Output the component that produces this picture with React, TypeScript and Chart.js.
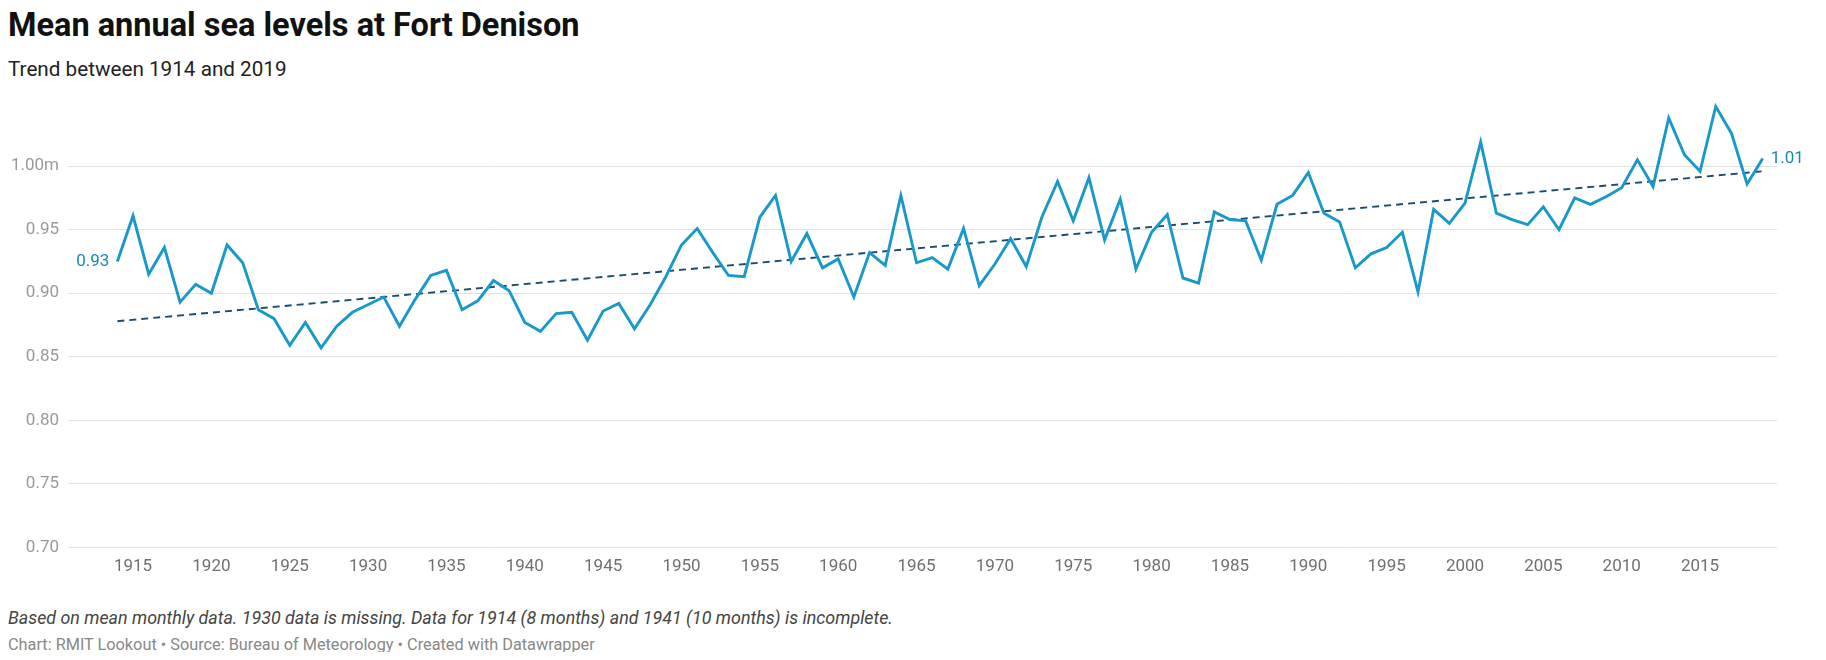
import { useEffect, useRef } from "react";
import { Chart, registerables } from "chart.js";

Chart.register(...registerables);

const years = [
  1914, 1915, 1916, 1917, 1918, 1919, 1920, 1921, 1922, 1923,
  1924, 1925, 1926, 1927, 1928, 1929, 1930, 1931, 1932, 1933,
  1934, 1935, 1936, 1937, 1938, 1939, 1940, 1941, 1942, 1943,
  1944, 1945, 1946, 1947, 1948, 1949, 1950, 1951, 1952, 1953,
  1954, 1955, 1956, 1957, 1958, 1959, 1960, 1961, 1962, 1963,
  1964, 1965, 1966, 1967, 1968, 1969, 1970, 1971, 1972, 1973,
  1974, 1975, 1976, 1977, 1978, 1979, 1980, 1981, 1982, 1983,
  1984, 1985, 1986, 1987, 1988, 1989, 1990, 1991, 1992, 1993,
  1994, 1995, 1996, 1997, 1998, 1999, 2000, 2001, 2002, 2003,
  2004, 2005, 2006, 2007, 2008, 2009, 2010, 2011, 2012, 2013,
  2014, 2015, 2016, 2017, 2018, 2019,
];

// Mean annual sea level (m); 1930 missing
const seaLevel: (number | null)[] = [
  0.925, 0.961, 0.915, 0.936, 0.893, 0.907, 0.900, 0.938, 0.924, 0.887,
  0.880, 0.859, 0.877, 0.857, 0.874, 0.885, null, 0.897, 0.874, 0.895,
  0.914, 0.918, 0.887, 0.894, 0.910, 0.902, 0.877, 0.870, 0.884, 0.885,
  0.863, 0.886, 0.892, 0.872, 0.891, 0.913, 0.938, 0.951, 0.932, 0.914,
  0.913, 0.960, 0.977, 0.925, 0.947, 0.920, 0.927, 0.897, 0.932, 0.922,
  0.977, 0.924, 0.928, 0.919, 0.951, 0.906, 0.923, 0.943, 0.921, 0.960,
  0.988, 0.957, 0.991, 0.942, 0.974, 0.919, 0.948, 0.962, 0.912, 0.908,
  0.964, 0.958, 0.957, 0.926, 0.970, 0.977, 0.995, 0.963, 0.956, 0.920,
  0.931, 0.936, 0.948, 0.901, 0.966, 0.955, 0.971, 1.019, 0.963, 0.958,
  0.954, 0.968, 0.950, 0.975, 0.970, 0.976, 0.983, 1.005, 0.984, 1.038,
  1.009, 0.996, 1.047, 1.026, 0.986, 1.006,
];

// Linear trend end points
const trendYears = [1914, 2019];
const trendValues = [0.878, 0.996];

const xTickYears = [
  1915, 1920, 1925, 1930, 1935, 1940, 1945, 1950, 1955, 1960, 1965,
  1970, 1975, 1980, 1985, 1990, 1995, 2000, 2005, 2010, 2015,
];
const yTickValues = [0.7, 0.75, 0.8, 0.85, 0.9, 0.95, 1.0];
const yTickLabels = ["0.70", "0.75", "0.80", "0.85", "0.90", "0.95", "1.00m"];

const firstLabel = "0.93";
const lastLabel = "1.01";

const LINE = "#1998ca";
const LABEL = "#1889b6";
const TREND = "#1a4c70";
const FONT = "Roboto, 'Noto Sans', sans-serif";

const endLabels = {
  id: "endLabels",
  afterDatasetsDraw(chart: any) {
    const meta = chart.getDatasetMeta(0);
    const pts = meta.data;
    if (!pts || !pts.length) return;
    const first = pts[0];
    const last = pts[pts.length - 1];
    const ctx = chart.ctx;
    ctx.save();
    ctx.font = `17px ${FONT}`;
    ctx.fillStyle = LABEL;
    ctx.textBaseline = "middle";
    ctx.textAlign = "right";
    ctx.fillText(firstLabel, first.x - 8, first.y);
    ctx.textAlign = "left";
    ctx.fillText(lastLabel, last.x + 8, last.y);
    ctx.restore();
  },
};

export default function App() {
  const ref = useRef<HTMLCanvasElement>(null);

  useEffect(() => {
    if (!ref.current) return;
    const mainData = years.map((yr, i) => ({ x: yr, y: seaLevel[i] }));
    const trendData = trendYears.map((yr, i) => ({ x: yr, y: trendValues[i] }));
    const chart = new Chart(ref.current, {
      type: "line",
      data: {
        datasets: [
          {
            label: "Sea level",
            data: mainData as any,
            borderColor: LINE,
            borderWidth: 2.9,
            pointRadius: 0,
            tension: 0,
            spanGaps: true,
            borderJoinStyle: "miter",
            order: 1,
          },
          {
            label: "Trend",
            data: trendData as any,
            borderColor: TREND,
            borderWidth: 1.9,
            borderDash: [7, 5],
            pointRadius: 0,
            tension: 0,
            order: 2,
          },
        ],
      },
      options: {
        animation: false,
        responsive: true,
        maintainAspectRatio: false,
        layout: { padding: { top: 10, right: 41, left: 0, bottom: 0 } },
        plugins: {
          legend: { display: false },
          tooltip: { enabled: false },
          title: { display: false },
        },
        scales: {
          x: {
            type: "linear",
            min: 1910.85,
            max: 2019.91,
            grid: { display: false, drawTicks: false },
            border: { display: false },
            afterBuildTicks: (scale: any) => {
              scale.ticks = xTickYears.map((v) => ({ value: v }));
            },
            afterFit: (scale: any) => {
              scale.height = 42.7;
              scale.paddingLeft = 0;
              scale.paddingRight = 0;
              scale.paddingTop = 0;
              scale.paddingBottom = 0;
            },
            ticks: {
              autoSkip: false,
              maxRotation: 0,
              padding: 9,
              color: "#707070",
              font: { family: FONT, size: 17 },
              callback: (v: any) => String(v),
            },
          },
          y: {
            type: "linear",
            min: 0.7,
            max: 1.06,
            grid: { color: "#e2e2e2", lineWidth: 1, drawTicks: false },
            border: { display: false },
            afterBuildTicks: (scale: any) => {
              scale.ticks = yTickValues.map((v) => ({ value: v }));
            },
            afterFit: (scale: any) => {
              scale.width = 60;
              scale.paddingTop = 0;
              scale.paddingBottom = 0;
              scale.paddingLeft = 0;
              scale.paddingRight = 0;
            },
            ticks: {
              padding: 9,
              color: "#999999",
              font: { family: FONT, size: 17 },
              callback: (v: any) => {
                const idx = yTickValues.findIndex((t) => Math.abs(t - v) < 1e-6);
                return idx >= 0 ? yTickLabels[idx] : "";
              },
            },
          },
        },
      },
      plugins: [endLabels],
    });
    return () => chart.destroy();
  }, []);

  return (
    <div
      style={{
        position: "relative",
        width: 1810,
        height: 644,
        fontFamily: FONT,
      }}
    >
      <div
        style={{
          position: "absolute",
          left: 0,
          top: -2,
          fontSize: 32.5,
          lineHeight: "38px",
          fontWeight: 700,
          color: "#111",
          whiteSpace: "nowrap",
        }}
      >
        Mean annual sea levels at Fort Denison
      </div>
      <div
        style={{
          position: "absolute",
          left: 0,
          top: 49,
          fontSize: 20.7,
          lineHeight: "24px",
          color: "#222",
          whiteSpace: "nowrap",
        }}
      >
        Trend between 1914 and 2019
      </div>
      <div style={{ position: "absolute", left: 0, top: 72, width: 1810, height: 510 }}>
        <canvas ref={ref} />
      </div>
      <div
        style={{
          position: "absolute",
          left: 0,
          top: 598.8,
          fontSize: 17.85,
          lineHeight: "21px",
          fontStyle: "italic",
          color: "#444",
          whiteSpace: "nowrap",
        }}
      >
        Based on mean monthly data. 1930 data is missing. Data for 1914 (8 months) and 1941 (10 months) is incomplete.
      </div>
      <div
        style={{
          position: "absolute",
          left: 0,
          top: 627,
          fontSize: 16.3,
          lineHeight: "19px",
          color: "#888",
          whiteSpace: "nowrap",
        }}
      >
        Chart: RMIT Lookout • Source: Bureau of Meteorology • Created with Datawrapper
      </div>
    </div>
  );
}
